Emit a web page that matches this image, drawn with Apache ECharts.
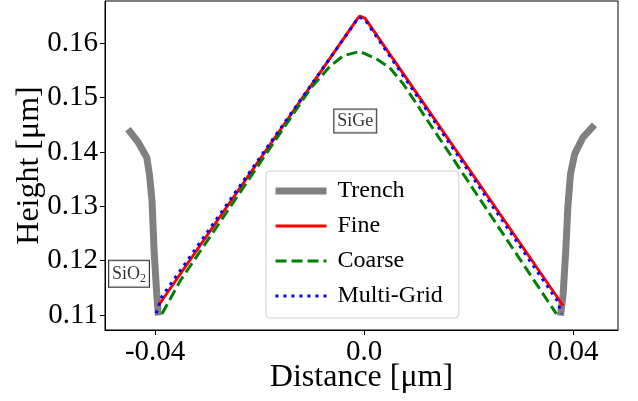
<!DOCTYPE html>
<html>
<head>
<meta charset="utf-8">
<script src="https://cdn.jsdelivr.net/npm/echarts@6/dist/echarts.min.js"></script>
<style>
html, body { margin: 0; padding: 0; background: #fff; }
#chart { width: 638px; height: 401px; }
</style>
</head>
<body>
<div id="chart"></div>
<script>
// tick positions
var xTicks = [-0.04, 0.0, 0.04];
var yTicks = [0.11, 0.12, 0.13, 0.14, 0.15, 0.16];

// trench walls (left and right)
var trenchLeftX = [-0.0452, -0.0432, -0.0416, -0.0411, -0.0406, -0.0402, -0.0397, -0.0394];
var trenchLeftY = [0.1442, 0.1417, 0.1390, 0.1359, 0.1310, 0.1218, 0.1139, 0.1099];
var trenchRightX = [0.0376, 0.0381, 0.0386, 0.0390, 0.0395, 0.0403, 0.0419, 0.0441];
var trenchRightY = [0.1099, 0.1139, 0.1218, 0.1298, 0.1359, 0.1396, 0.1427, 0.1450];

// fine grid profile
var fineX = [-0.0394, -0.0013, -0.0008, 0.0002, 0.0381];
var fineY = [0.1117, 0.1645, 0.1650, 0.1646, 0.1117];

// coarse grid profile
var coarseX = [-0.0387, -0.0352, -0.0104, -0.0065, -0.0040, -0.0008, 0.0024, 0.0049, 0.0075, 0.0368];
var coarseY = [0.1102, 0.1163, 0.1515, 0.1558, 0.1577, 0.1585, 0.1571, 0.1555, 0.1525, 0.1102];

// multi-grid profile
var multiX = [-0.0398, -0.0387, -0.0010, 0.0001, 0.0370, 0.0378];
var multiY = [0.1103, 0.1134, 0.1648, 0.1644, 0.1126, 0.1102];

// material labels
var labelNames = ["SiGe", "SiO2"];
var labelX = [-0.0017, -0.0450];
var labelY = [0.1457, 0.1176];

function zip(xs, ys){
	var out = [];
	for(var i=0; i<xs.length; i++) out.push([xs[i], ys[i]]);
	return out;
}

var serif = "Liberation Serif";
var myChart = echarts.init(document.getElementById("chart"), null, {renderer: "canvas"});

var trenchStyle = {color: "#808080", width: 7, cap: "butt"};
var fineStyle = {color: "#ff0000", width: 3};
var coarseStyle = {color: "#008000", width: 3, type: [11, 5]};
var multiStyle = {color: "#0000ff", width: 3, type: [3, 5]};

var option = {
	animation: false,
	backgroundColor: "#fff",
	textStyle: {fontFamily: serif},
	grid: {left: 105, right: 20, top: 1, bottom: 71, containLabel: false, outerBoundsMode: "none", show: true, borderColor: "#000", borderWidth: 1, backgroundColor: "transparent"},
	legend: {
		data: [
			{name: "Trench", lineStyle: trenchStyle},
			{name: "Fine", lineStyle: fineStyle},
			{name: "Coarse", lineStyle: coarseStyle},
			{name: "Multi-Grid", lineStyle: multiStyle}
		],
		orient: "vertical",
		left: 266,
		top: 171,
		itemWidth: 51,
		itemHeight: 14,
		itemGap: 11,
		padding: [8, 16, 10, 6],
		backgroundColor: "rgba(255,255,255,0.8)",
		borderColor: "#d0d0d0",
		borderWidth: 1,
		borderRadius: 4,
		itemStyle: {color: "rgba(0,0,0,0)", borderColor: "rgba(0,0,0,0)", borderWidth: 0},
		textStyle: {fontFamily: serif, fontSize: 24, color: "#000", padding: [0, 0, 0, 6]}
	},
	xAxis: {
		type: "value",
		min: -0.0496,
		max: 0.0486,
		name: "Distance [μm]",
		nameLocation: "middle",
		nameGap: 32,
		nameMoveOverlap: false,
		nameTextStyle: {fontFamily: serif, fontSize: 32, color: "#000"},
		axisLine: {show: true, onZero: false, lineStyle: {color: "#000", width: 1}},
		axisTick: {show: true, length: 5, customValues: xTicks, lineStyle: {color: "#000"}},
		axisLabel: {
			customValues: xTicks,
			margin: 8,
			fontFamily: serif,
			fontSize: 29,
			color: "#000",
			formatter: function(v){ return Math.abs(v) < 1e-9 ? "0.0" : v.toFixed(2); }
		},
		splitLine: {show: false}
	},
	yAxis: {
		type: "value",
		min: 0.10724,
		max: 0.16778,
		name: "Height [μm]",
		nameLocation: "middle",
		nameGap: 59,
		nameMoveOverlap: false,
		nameTextStyle: {fontFamily: serif, fontSize: 32, color: "#000"},
		axisLine: {show: true, onZero: false, lineStyle: {color: "#000", width: 1}},
		axisTick: {show: true, length: 5, customValues: yTicks, lineStyle: {color: "#000"}},
		axisLabel: {
			customValues: yTicks,
			margin: 7,
			fontFamily: serif,
			fontSize: 29,
			color: "#000",
			formatter: function(v){ return v.toFixed(2); }
		},
		splitLine: {show: false}
	},
	series: [
		{name: "Trench", type: "line", data: zip(trenchLeftX, trenchLeftY), symbol: "none", lineStyle: trenchStyle, z: 2},
		{name: "Trench", type: "line", data: zip(trenchRightX, trenchRightY), symbol: "none", lineStyle: trenchStyle, z: 2},
		{name: "Fine", type: "line", data: zip(fineX, fineY), symbol: "none", lineStyle: fineStyle, z: 3},
		{name: "Coarse", type: "line", data: zip(coarseX, coarseY), symbol: "none", lineStyle: coarseStyle, z: 4},
		{name: "Multi-Grid", type: "line", data: zip(multiX, multiY), symbol: "none", lineStyle: multiStyle, z: 5},
		{
			name: "labels",
			type: "scatter",
			symbolSize: 0,
			data: zip(labelX, labelY).map(function(p, i){ return {value: p, name: labelNames[i]}; }),
			label: {
				show: true,
				position: "inside",
				formatter: function(p){ return p.name == "SiO2" ? "{a|SiO}{b|2}" : "{a|SiGe}"; },
				backgroundColor: "#fff",
				borderColor: "#000",
				borderWidth: 1,
				padding: [3, 3, 2, 3],
				rich: {
					a: {fontFamily: serif, fontSize: 18, color: "#000"},
					b: {fontFamily: serif, fontSize: 12, color: "#000", padding: [9, 0, 0, 0]}
				}
			},
			z: 6
		}
	]
};
myChart.setOption(option);
</script>
</body>
</html>
